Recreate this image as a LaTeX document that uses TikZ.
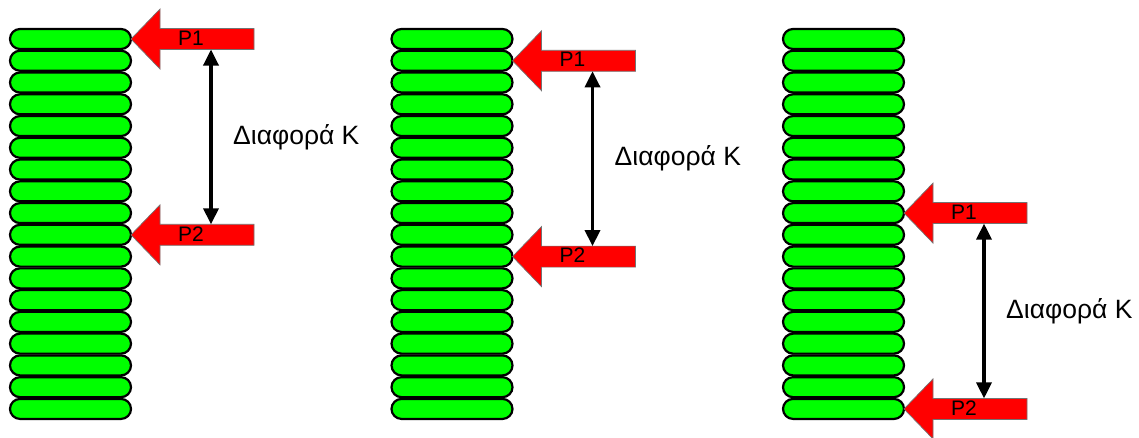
\documentclass[tikz,border=0pt]{standalone}
\usepackage{fontspec}
\setmainfont{Liberation Sans}
\usetikzlibrary{arrows.meta,calc}
\begin{document}
\begin{tikzpicture}[x=1pt,y=-1pt,
  capsule/.style={draw=black, line width=2.2pt, fill=green, rounded corners=10pt,
    minimum width=121pt, minimum height=20pt, inner sep=0pt, outer sep=0pt},
  plabel/.style={font=\fontsize{21}{21}\selectfont, inner sep=0pt, text=black},
  difflabel/.style={font=\fontsize{26.5}{26.5}\selectfont, inner sep=0pt, anchor=west},
  dimline/.style={line width=3.4pt, {Triangle[width=15pt,length=16pt]}-{Triangle[width=15pt,length=16pt]}},
  pics/force/.style={code={
    \filldraw[fill=red, draw=black!55, line width=0.7pt]
      (0,0) -- (29,-30) -- (29,-10.5) -- (123,-10.5) -- (123,10.5) -- (29,10.5) -- (29,30) -- cycle;
  }}]
\useasboundingbox (0,0) rectangle (1139,437);
\foreach \s/\cx in {1/70.5,2/452,3/843.5}{
  \foreach \i in {0,...,17}{
    \node[capsule] (s\s c\i) at (\cx, 39+\i*21.76) {};
  }
}
\foreach \s/\a/\b in {1/0/9,2/1/10,3/8/17}{
  \path (s\s c\a.east) pic {force};
  \path (s\s c\b.east) pic {force};
  \node[plabel] (pa\s) at ($(s\s c\a.east)+(60,-1)$) {P1};
  \node[plabel] (pb\s) at ($(s\s c\b.east)+(60,-1)$) {P2};
  \coordinate (top\s) at ($(s\s c\a.east)+(80,10.5)$);
  \coordinate (bot\s) at ($(s\s c\b.east)+(80,-10.5)$);
  \draw[dimline] (top\s) -- (bot\s);
  \node[difflabel] (d\s) at ($(top\s)!0.5!(bot\s)+(22,0)$) {Διαφορά Κ};
}
\end{tikzpicture}
\end{document}
